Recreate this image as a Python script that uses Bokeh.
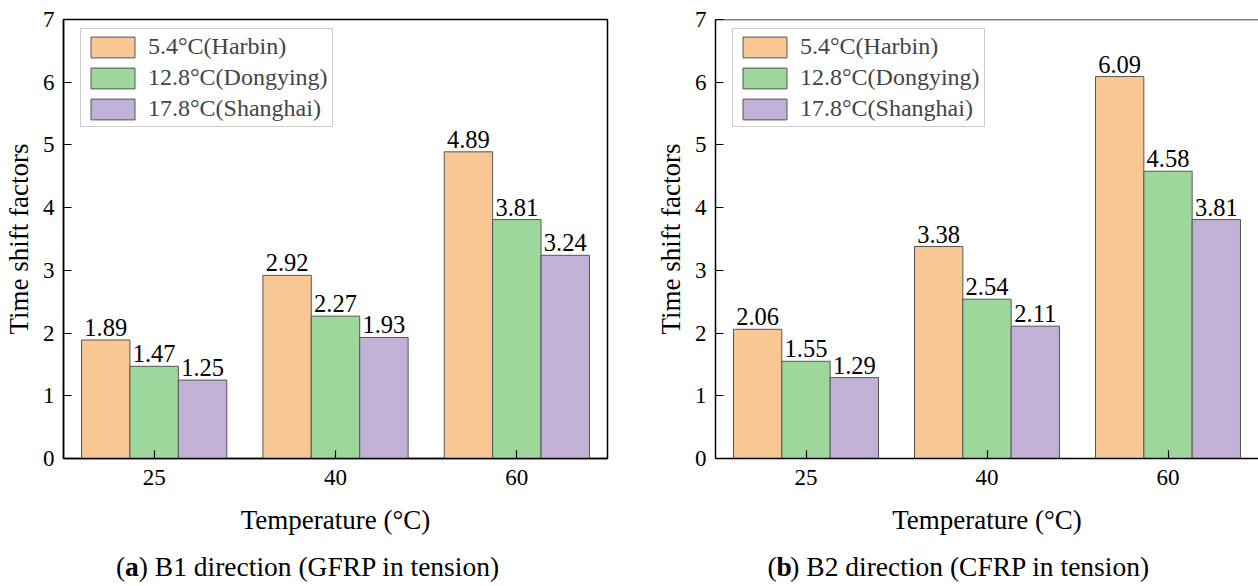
from bokeh.plotting import figure
from bokeh.models import FactorRange, Range1d, Legend, LegendItem, Label, Span, FixedTicker, ColumnDataSource
from bokeh.transform import dodge
from bokeh.layouts import row, column
from bokeh.core.properties import value
from bokeh.embed import file_html
from bokeh.resources import INLINE

temps = ["25", "40", "60"]
series = ["5.4°C(Harbin)", "12.8°C(Dongying)", "17.8°C(Shanghai)"]
b1_harbin = [1.89, 2.92, 4.89]
b1_dongying = [1.47, 2.27, 3.81]
b1_shanghai = [1.25, 1.93, 3.24]
b2_harbin = [2.06, 3.38, 6.09]
b2_dongying = [1.55, 2.54, 4.58]
b2_shanghai = [1.29, 2.11, 3.81]
y_ticks = [0, 1, 2, 3, 4, 5, 6, 7]
colors = ["#F9C794", "#9DD79C", "#C2B1D6"]
offsets = [-0.267, 0.0, 0.267]

FONT = "Liberation Serif"
MAIN_H = 540
CAP_H = 586 - MAIN_H


def make_panel(vals, width, border_right, outline):
    p = figure(x_range=FactorRange(*temps), y_range=Range1d(0, 7),
               width=width, height=MAIN_H, output_backend="svg", toolbar_location=None,
               min_border_left=62, min_border_right=border_right,
               min_border_top=19, min_border_bottom=MAIN_H - 19 - 439)
    p.xgrid.visible = False
    p.ygrid.visible = False
    p.background_fill_color = "white"
    p.border_fill_color = "white"
    items = []
    for i, v in enumerate(vals):
        src = ColumnDataSource(dict(x=temps, y=v, lab=[f"{a:.2f}" for a in v]))
        r = p.vbar(x=dodge("x", offsets[i], range=p.x_range), top="y", width=0.267,
                   fill_color=colors[i], line_color="#555555", line_width=1, source=src)
        p.text(x=dodge("x", offsets[i], range=p.x_range), y="y", text="lab", source=src,
               text_align="center", text_baseline="bottom", y_offset=-4,
               text_font=value(FONT), text_font_size="24.5px", text_color="black")
        items.append(LegendItem(label=series[i], renderers=[r]))
    legend = Legend(items=items, location=(17, 331), glyph_width=55, glyph_height=26,
                    label_height=26, spacing=4, padding=4, margin=0, label_standoff=8,
                    border_line_color="#9a9a9a", border_line_width=1,
                    label_text_font=FONT, label_text_font_size="24px",
                    background_fill_alpha=1)
    p.add_layout(legend)

    for ax in (p.xaxis[0], p.yaxis[0]):
        ax.major_tick_in = 8
        ax.major_tick_out = 0
        ax.minor_tick_line_color = None
        ax.axis_line_width = 1.5
        ax.axis_line_color = "black"
        ax.major_tick_line_color = "black"
        ax.major_tick_line_width = 1.2
        ax.major_label_text_font = FONT
        ax.major_label_text_font_size = "23px"
        ax.major_label_text_color = "black"
        ax.axis_label_text_font = FONT
        ax.axis_label_text_font_size = "27px"
        ax.axis_label_text_font_style = "normal"
        ax.axis_label_text_color = "black"
    p.xaxis.major_label_standoff = 11
    p.xaxis.axis_label = "Temperature (°C)"
    p.xaxis.axis_label_standoff = 17
    p.yaxis.ticker = FixedTicker(ticks=y_ticks)
    p.yaxis.major_label_standoff = 9
    p.yaxis.axis_label = "Time shift factors"
    p.yaxis.axis_label_standoff = 6

    if outline:
        p.outline_line_color = "black"
        p.outline_line_width = 1.5
        p.outline_line_alpha = 1
    else:
        p.outline_line_color = None
        p.add_layout(Span(location=7, dimension="width", line_color="black", line_width=1.5))
    return p


def make_caption(letter, caption_rest, width, frame_w):
    c = figure(width=width, height=CAP_H, x_range=Range1d(0, 1), y_range=Range1d(0, 1),
               output_backend="svg", toolbar_location=None, min_border=0,
               x_axis_location=None, y_axis_location=None)
    c.xgrid.visible = False
    c.ygrid.visible = False
    c.outline_line_color = None
    F = 27.5
    start = 62 + frame_w / 2 - 27 - 6.985 * F
    common = dict(y=CAP_H - 26, x_units="screen", y_units="screen",
                  text_baseline="middle", text_align="left",
                  text_font=FONT, text_font_size=f"{F}px", text_color="black")
    c.add_layout(Label(text="(", x=start, **common))
    c.add_layout(Label(text=letter, x=start + 0.333 * F, text_font_style="bold", **common))
    c.add_layout(Label(text=caption_rest, x=start + (0.333 + 0.5) * F, **common))
    return c


p1 = make_panel([b1_harbin, b1_dongying, b1_shanghai], 652, 45, True)
p2 = make_panel([b2_harbin, b2_dongying, b2_shanghai], 606, 0, False)
c1 = make_caption("a", ") B1 direction (GFRP in tension)", 652, 545)
c2 = make_caption("b", ") B2 direction (CFRP in tension)", 606, 544)

layout = column(row(p1, p2), row(c1, c2))
open("out.html", "w").write(file_html(layout, INLINE))
